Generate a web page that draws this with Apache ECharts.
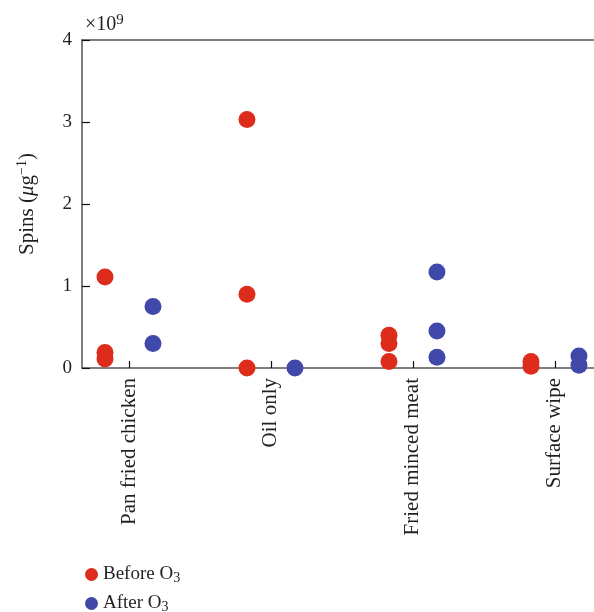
<!DOCTYPE html>
<html>
<head>
<meta charset="utf-8">
<script src="https://cdn.jsdelivr.net/npm/echarts@6/dist/echarts.min.js"></script>
<style>html,body{margin:0;padding:0;background:#fff}#c{width:594px;height:612px}</style>
</head>
<body>
<div id="c"></div>
<script>
// Data (values in units of 10^9 spins per microgram)
const categories = ['Pan fried chicken', 'Oil only', 'Fried minced meat', 'Surface wipe'];
const beforeO3 = [[1.11, 0.19, 0.11], [3.03, 0.90, 0.0], [0.40, 0.30, 0.08], [0.08, 0.02]];
const afterO3 = [[0.75, 0.30], [0.0], [1.17, 0.45, 0.13], [0.145, 0.035]];
const yTicks = [0, 1, 2, 3, 4];
const seriesNames = ['Before O3', 'After O3'];

const FONT = 'Liberation Serif';
const TXT = '#231f20';
const AX = '#555555';
const catPos = categories.map((c, i) => i + 1);
const off = 0.169;

function pts(groups, dx) {
  const out = [];
  groups.forEach((g, i) => g.forEach(v => out.push([catPos[i] + dx, v])));
  return out;
}

function legendFor(name, top) {
  return {
    orient: 'vertical', left: 80, top: top,
    icon: 'circle', itemWidth: 13, itemHeight: 13,
    data: [name],
    formatter: n => '{t|' + n.slice(0, -1) + '}{s|' + n.slice(-1) + '}',
    textStyle: {
      fontFamily: FONT, fontSize: 19, color: TXT,
      rich: {
        t: {fontFamily: FONT, fontSize: 19, color: TXT},
        s: {fontFamily: FONT, fontSize: 14, color: TXT, padding: [8, 0, 0, 0]}
      }
    }
  };
}

const chart = echarts.init(document.getElementById('c'), null, {renderer: 'canvas'});
chart.setOption({
  animation: false,
  backgroundColor: '#ffffff',
  textStyle: {fontFamily: FONT, color: TXT},
  grid: {left: 82, right: 0, top: 40, bottom: 244, containLabel: false},
  xAxis: [{
    type: 'value',
    min: 0.669, max: 4.275,
    position: 'bottom',
    splitLine: {show: false},
    axisLine: {show: true, onZero: false, lineStyle: {color: AX, width: 1.5}},
    axisTick: {show: true, inside: true, length: 7, customValues: catPos, lineStyle: {color: '#111', width: 1.2}},
    axisLabel: {
      show: true, customValues: catPos, rotate: 90, margin: 10,
      fontFamily: FONT, fontSize: 21, color: TXT,
      formatter: v => categories[Math.round(v) - 1] || ''
    }
  }, {
    type: 'value',
    min: 0.669, max: 4.275,
    position: 'top',
    splitLine: {show: false},
    axisLine: {show: true, onZero: false, lineStyle: {color: AX, width: 1.5}},
    axisTick: {show: false},
    axisLabel: {show: false}
  }],
  yAxis: {
    type: 'value',
    min: 0, max: 4, interval: 1,
    splitLine: {show: false},
    axisLine: {show: true, onZero: false, lineStyle: {color: AX, width: 1.5}},
    axisTick: {show: true, inside: true, length: 8, lineStyle: {color: '#111', width: 1.2}},
    axisLabel: {
      margin: 10, fontFamily: FONT, fontSize: 19, color: TXT,
      formatter: v => (yTicks.indexOf(v) >= 0 ? String(v) : '')
    },
    name: '{t|Spins (}{i|μ}{t|g}{s|−1}{t|)}',
    nameLocation: 'middle',
    nameGap: 43,
    nameTextStyle: {
      fontFamily: FONT, fontSize: 21, color: TXT,
      rich: {
        t: {fontFamily: FONT, fontSize: 21, color: TXT},
        i: {fontFamily: FONT, fontSize: 21, fontStyle: 'italic', color: TXT},
        s: {fontFamily: FONT, fontSize: 14, color: TXT, padding: [0, 0, 10, 0]}
      }
    }
  },
  legend: [legendFor(seriesNames[0], 560), legendFor(seriesNames[1], 589)],
  graphic: [{
    type: 'text', left: 85, top: 13,
    style: {
      text: '{t|×10}{s|9}',
      rich: {
        t: {fontFamily: FONT, fontSize: 20, fill: TXT},
        s: {fontFamily: FONT, fontSize: 15, fill: TXT, padding: [0, 0, 9, 0]}
      }
    }
  }],
  series: [{
    name: seriesNames[0], type: 'scatter', symbol: 'circle', symbolSize: 17,
    itemStyle: {color: '#de2c1c', opacity: 1},
    data: pts(beforeO3, -off)
  }, {
    name: seriesNames[1], type: 'scatter', symbol: 'circle', symbolSize: 17,
    itemStyle: {color: '#4048aa', opacity: 1},
    data: pts(afterO3, off)
  }]
});
</script>
</body>
</html>
